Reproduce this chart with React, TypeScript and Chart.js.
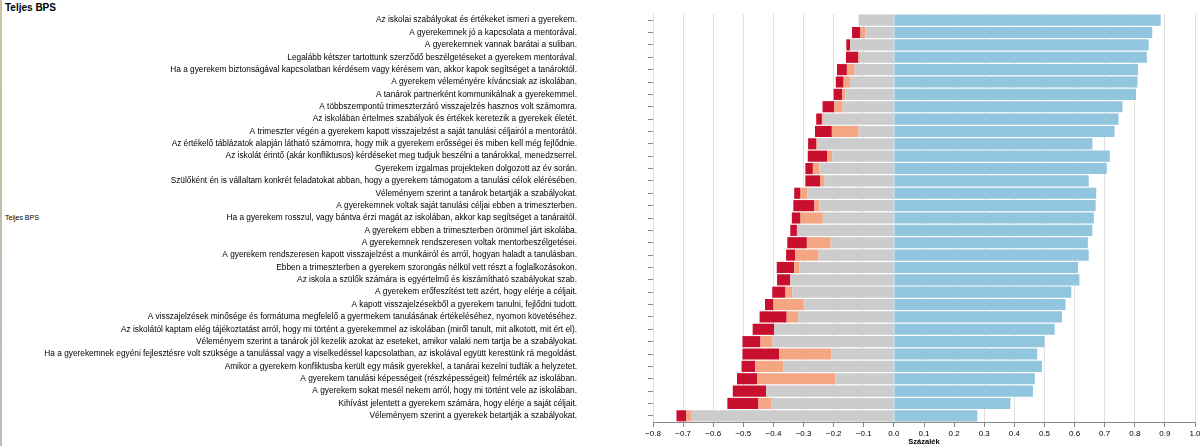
import React, { useEffect, useRef } from "react";
import { Chart, registerables } from "chart.js";

Chart.register(...registerables);

const categories: string[] = [
  "Az iskolai szabályokat és értékeket ismeri a gyerekem.",
  "A gyerekemnek jó a kapcsolata a mentorával.",
  "A gyerekemnek vannak barátai a suliban.",
  "Legalább kétszer tartottunk szerződő beszélgetéseket a gyerekem mentorával.",
  "Ha a gyerekem biztonságával kapcsolatban kérdésem vagy kérésem van, akkor kapok segítséget a tanároktól.",
  "A gyerekem véleményére kíváncsiak az iskolában.",
  "A tanárok partnerként kommunikálnak a gyerekemmel.",
  "A többszempontú trimeszterzáró visszajelzés hasznos volt számomra.",
  "Az iskolában értelmes szabályok és értékek keretezik a gyerekek életét.",
  "A trimeszter végén a gyerekem kapott visszajelzést a saját tanulási céljairól a mentorától.",
  "Az értékelő táblázatok alapján látható számomra, hogy mik a gyerekem erősségei és miben kell még fejlődnie.",
  "Az iskolát érintő (akár konfliktusos) kérdéseket meg tudjuk beszélni a tanárokkal, menedzserrel.",
  "Gyerekem izgalmas projekteken dolgozott az év során.",
  "Szülőként én is vállaltam konkrét feladatokat abban, hogy a gyerekem támogatom a tanulási célok elérésében.",
  "Véleményem szerint a tanárok betartják a szabályokat.",
  "A gyerekemnek voltak saját tanulási céljai ebben a trimeszterben.",
  "Ha a gyerekem rosszul, vagy bántva érzi magát az iskolában, akkor kap segítséget a tanáraitól.",
  "A gyerekem ebben a trimeszterben örömmel járt iskolába.",
  "A gyerekemnek rendszeresen voltak mentorbeszélgetései.",
  "A gyerekem rendszeresen kapott visszajelzést a munkáiról és arról, hogyan haladt a tanulásban.",
  "Ebben a trimeszterben a gyerekem szorongás nélkül vett részt a foglalkozásokon.",
  "Az iskola a szülők számára is egyértelmű és kiszámítható szabályokat szab.",
  "A gyerekem erőfeszítést tett azért, hogy elérje a céljait.",
  "A kapott visszajelzésekből a gyerekem tanulni, fejlődni tudott.",
  "A visszajelzések minősége és formátuma megfelelő a gyermekem tanulásának értékeléséhez, nyomon követéséhez.",
  "Az iskolától kaptam elég tájékoztatást arról, hogy mi történt a gyerekemmel az iskolában (miről tanult, mit alkotott, mit ért el).",
  "Véleményem szerint a tanárok jól kezelik azokat az eseteket, amikor valaki nem tartja be a szabályokat.",
  "Ha a gyerekemnek egyéni fejlesztésre volt szüksége a tanulással vagy a viselkedéssel kapcsolatban, az iskolával együtt kerestünk rá megoldást.",
  "Amikor a gyerekem konfliktusba került egy másik gyerekkel, a tanárai kezelni tudták a helyzetet.",
  "A gyerekem tanulási képességeit (részképességeit) felmérték az iskolában.",
  "A gyerekem sokat mesél nekem arról, hogy mi történt vele az iskolában.",
  "Kihívást jelentett a gyerekem számára, hogy elérje a saját céljait.",
  "Véleményem szerint a gyerekek betartják a szabályokat.",
];

// shares (negative side drawn leftwards from zero)
const neutralShare: number[] = [
  0.117, 0.094, 0.145, 0.113, 0.13, 0.146, 0.161, 0.17, 0.236, 0.117, 0.255,
  0.205, 0.248, 0.23, 0.287, 0.248, 0.236, 0.322, 0.21, 0.25, 0.313, 0.344,
  0.337, 0.3, 0.317, 0.397, 0.403, 0.208, 0.367, 0.194, 0.424, 0.406, 0.674,
];
const disagreeShare: number[] = [
  0, 0.017, 0, 0.006, 0.026, 0.021, 0.011, 0.028, 0.003, 0.089, 0.002,
  0.017, 0.021, 0.014, 0.023, 0.016, 0.074, 0, 0.079, 0.078, 0.018, 0,
  0.023, 0.1, 0.039, 0, 0.04, 0.173, 0.094, 0.26, 0, 0.044, 0.015,
];
const stronglyDisagreeShare: number[] = [
  0, 0.028, 0.013, 0.04, 0.033, 0.026, 0.028, 0.039, 0.019, 0.056, 0.028,
  0.064, 0.025, 0.05, 0.021, 0.07, 0.029, 0.022, 0.065, 0.03, 0.058, 0.044,
  0.044, 0.028, 0.09, 0.072, 0.06, 0.122, 0.045, 0.067, 0.111, 0.103, 0.033,
];
const agreeShare: number[] = [
  0.886, 0.858, 0.846, 0.84, 0.811, 0.809, 0.804, 0.759, 0.746, 0.733, 0.659,
  0.717, 0.707, 0.647, 0.672, 0.67, 0.664, 0.659, 0.644, 0.647, 0.612, 0.616,
  0.589, 0.57, 0.558, 0.534, 0.5, 0.476, 0.492, 0.468, 0.462, 0.387, 0.277,
];

const xTickMin = -0.8;
const xTickMax = 1.0;
const xTickStep = 0.1;

const FONT = "'Liberation Sans', Arial, Helvetica, sans-serif";

export default function App() {
  const ref = useRef<HTMLCanvasElement | null>(null);

  useEffect(() => {
    document.body.style.margin = "0";
    const canvas = ref.current;
    if (!canvas) return;
    const neg = (a: number[]) => a.map((v) => -v);
    const chart = new Chart(canvas, {
      type: "bar",
      data: {
        labels: categories,
        datasets: [
          { label: "Semleges", data: neg(neutralShare), backgroundColor: "#cccccc" },
          { label: "Inkább nem", data: neg(disagreeShare), backgroundColor: "#f4a582" },
          { label: "Egyáltalán nem", data: neg(stronglyDisagreeShare), backgroundColor: "#c8102e" },
          { label: "Egyetért", data: agreeShare, backgroundColor: "#92c5de" },
        ],
      },
      options: {
        indexAxis: "y",
        responsive: false,
        animation: false,
        maintainAspectRatio: false,
        layout: { padding: { left: 0, right: 5, top: 14, bottom: 0 } },
        datasets: { bar: { barPercentage: 0.9, categoryPercentage: 1.0, borderWidth: 0 } },
        plugins: { legend: { display: false }, tooltip: { enabled: false }, title: { display: false } },
        scales: {
          x: {
            stacked: true,
            min: xTickMin,
            max: xTickMax,
            ticks: {
              stepSize: xTickStep,
              color: "#000",
              padding: 2,
              maxRotation: 0,
              font: { family: FONT, size: 8 },
              callback: (v: any) => {
                const n = Number(v);
                const s = Math.abs(n).toFixed(1);
                return n < -1e-9 ? "\u2212" + s : s;
              },
            },
            grid: { color: "#e0e0e0", tickColor: "#888", tickLength: 5, lineWidth: 1 },
            border: { display: true, color: "#888" },
            title: {
              display: true,
              text: "Százalék",
              color: "#000",
              padding: { top: 0, bottom: 0 },
              font: { family: FONT, size: 7.5, weight: "bold" },
            },
            afterFit: (scale: any) => {
              scale.height = 24;
              scale.paddingLeft = 0;
              scale.paddingRight = 0;
            },
          },
          y: {
            stacked: true,
            ticks: {
              color: "#000",
              padding: 71,
              autoSkip: false,
              font: { family: FONT, size: 8.3 },
            },
            grid: { display: true, drawOnChartArea: false, offset: false, tickColor: "#888", tickLength: 5 },
            border: { display: false },
            afterFit: (scale: any) => {
              scale.width = 653;
              scale.paddingTop = 0;
              scale.paddingBottom = 0;
            },
          },
        },
      },
    });
    return () => chart.destroy();
  }, []);

  return (
    <div style={{ position: "relative", width: 1200, height: 446, background: "#fff", overflow: "hidden" }}>
      <div
        style={{
          position: "absolute",
          left: 0,
          top: 0,
          width: 2,
          height: 446,
          background: "linear-gradient(#c9c3a0, #b9bcb9)",
        }}
      />
      <div
        style={{
          position: "absolute",
          left: 5,
          top: 2,
          fontFamily: FONT,
          fontWeight: "bold",
          fontSize: 10,
          lineHeight: "12px",
          color: "#000",
        }}
      >
        Teljes BPS
      </div>
      <div
        style={{
          position: "absolute",
          left: 5,
          top: 213,
          fontFamily: FONT,
          fontSize: 7,
          lineHeight: "9px",
          color: "#000",
        }}
      >
        Teljes BPS
      </div>
      <canvas ref={ref} width={1200} height={446} style={{ position: "absolute", left: 0, top: 0 }} />
    </div>
  );
}
